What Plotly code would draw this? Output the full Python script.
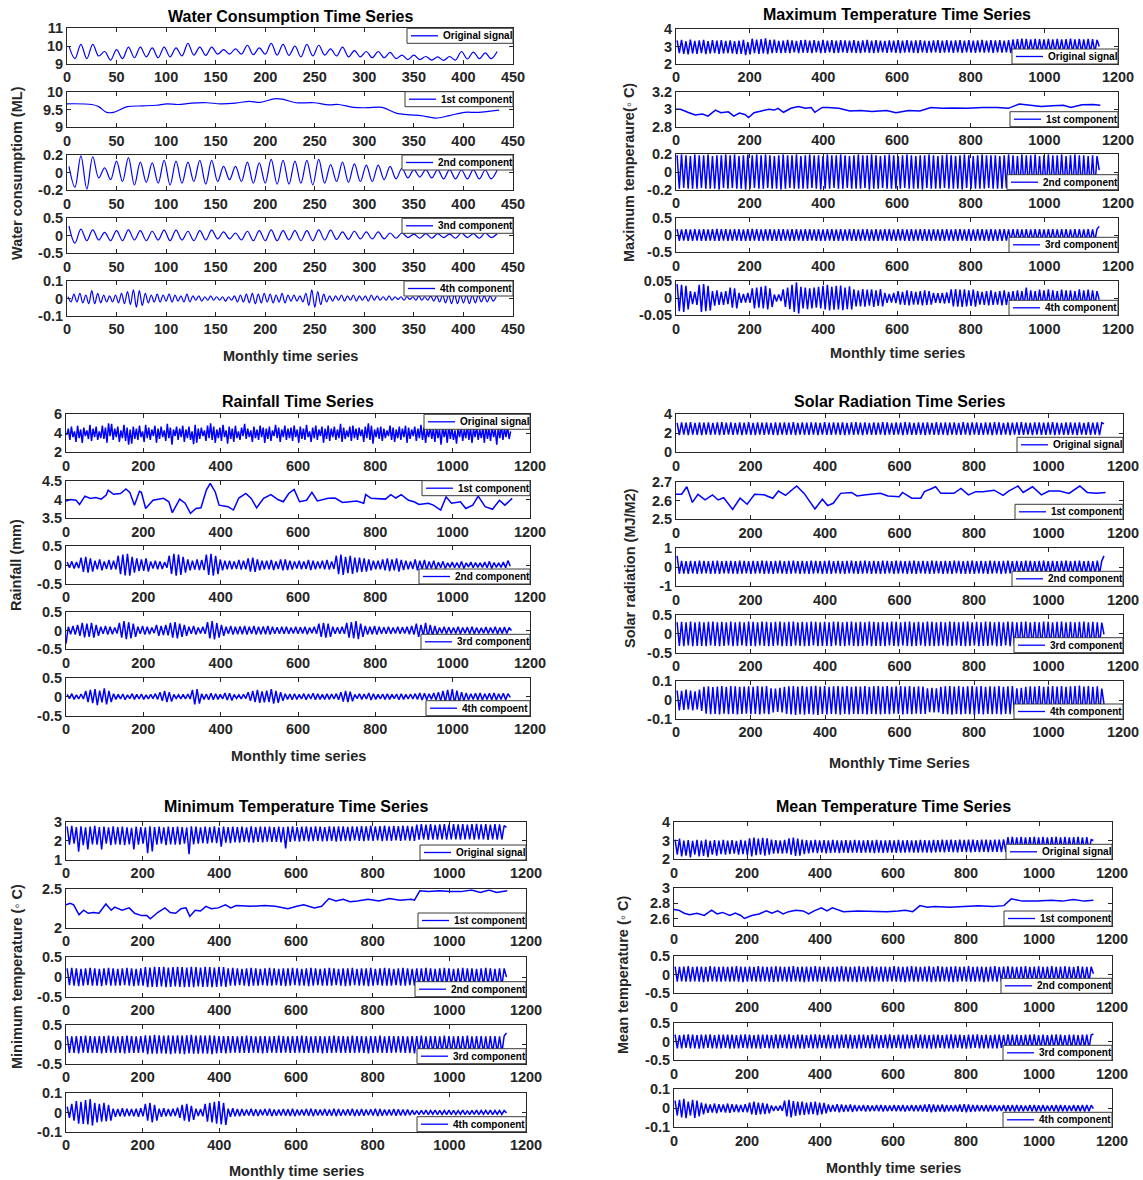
import plotly.graph_objects as go

# ======================= DATA =======================
# Oscillating series are stored as alternating peak / trough values (integers in
# the stated unit); the month index of each value is start + step * i.

# ---- Water consumption (x100 for original, x1000 for components) ----
WC_ORIG = [1000,930, 1010,930, 1010,945, 970,922, 980,930, 995,935, 995,940, 990,935, 995,940, 990,945,
           1015,950, 995,948, 995,955, 980,955, 985,955, 1005,952, 990,955, 1015,950, 1010,948, 1000,940,
           1010,945, 1005,950, 985,945, 995,940, 975,940, 970,935, 970,935, 965,930, 950,925, 950,925,
           942,922, 940,920, 942,922, 970,928, 967,930, 962,930, 970]
WC_C1_X = [0,25,32,40,47,61,76,90,101,112,126,141,155,170,184,195,209,217,231,249,264,274,289,303,318,332,347,357,372,386,401,415,436]
WC_C1_Y = [9.66,9.64,9.58,9.42,9.42,9.58,9.6,9.62,9.66,9.64,9.68,9.69,9.66,9.68,9.73,9.7,9.8,9.79,9.69,9.69,9.63,9.64,9.56,9.55,9.56,9.4,9.35,9.33,9.26,9.33,9.42,9.42,9.48]
WC_C2 = [70,-165, 190,-185, 180,-60, 55,-80, 130,-100, 170,-140, 120,-110, 110,-120, 140,-140, 130,-120,
         120,-100, 140,-130, 140,-100, 70,-80, 70,-100, 120,-120, 110,-120, 150,-130, 140,-130, 130,-120,
         140,-140, 150,-120, 90,-100, 120,-110, 100,-100, 85,-100, 85,-80, 70,-70, 50,-60, 35,-50,
         35,-60, 35,-70, 35,-70, 30,-70, 35,-70, 30,-70, 30]
WC_C3 = [280,-210, 190,-140, 170,-120, 100,-140, 150,-140, 170,-120, 150,-140, 130,-120, 160,-140, 160,-120,
         130,-140, 150,-120, 160,-90, 110,-90, 80,-120, 130,-140, 150,-140, 170,-140, 150,-120, 150,-140,
         150,-140, 170,-120, 160,-100, 110,-100, 130,-90, 110,-90, 110,-90, 80,-70, 80,-50, 50,-70,
         60,-70, 60,-50, 50,-70, 80,-50, 60,-70, 80,-50, 60]
WC_C4 = [10,-20,25,-20,30,-25,20,-30,45,-30,30,-25,20,-20,
         15,-20,20,-25,30,-30,
         40,-35,50,-50,45,-40,30,
         -25,20,-20,25,-20,20,-15,25,-20,20,
         -15,15,-20,25,-20,15,-10,15,-15,10,-10,15,-10,10,
         -10,10,-15,10,-10,15,-20,20,-20,25,
         -25,30,-30,25,-25,30,-20,25,-25,20,-20,30,-25,20,-15,20,-15,
         15,-20,30,-40,50,-50,40,-35,25,-20,15,-15,
         15,-10,20,-15,15,-10,20,-15,15,-10,15,-15,20,-10,15,-10,10,-10,15,-10,10,
         -5,10,-10,10,-5,10,-10,15,-10,10,-10,15,-15,15,-20,20,-25,
         20,-30,25,-30,20,-25,20,-30,20,-25,20,-20,15,-20,15,-15,10]

# ---- Maximum temperature (x100; 4th x1000) ----
MT_ORIG = [335,262,338,258,330,255,340,260,332,258,335,262,338,257,330,260,336,262,334,258,337,260,332,262,
           335,260,330,256,333,258,338,250,325,255,345,262,340,258,342,260,346,256,338,262,340,264,332,262,
           334,264,338,262,335,266,332,262,336,265,338,264,334,262,336,266,332,262,338,264,334,266,336,262,
           333,264,337,266,335,263,334,265,336,264,332,262,335,266,338,264,333,262,336,265,334,266,332,264,
           335,266,333,264,336,262,334,265,337,266,333,264,335,262,336,266,334,264,332,265,335,266,336,264,
           334,265,336,266,333,264,335,266,337,264,334,266,336,265,333,264,335,266,338,265,334,266,336,264,
           335,266,337,265,334,266,336,264,340,266,342,268,345,266,343,268,340,266,344,268,342,267,340,266,
           343,268,341,266,344,268,340,267,342,268,345,266,341,268,343,267,340,268,344,266,342,268,338,300]
MT_C1_X = [0,12,32,52,72,87,107,122,142,157,172,187,197,212,232,252,267,277,292,312,332,352,367,377,397,412,442,472,502,532,
           572,597,632,662,692,722,752,792,832,872,902,932,962,992,1022,1052,1072,1102,1132,1152]
MT_C1_Y = [3.0,3.0,2.965,2.935,2.945,2.92,2.99,2.96,2.97,2.92,2.955,2.94,2.905,2.96,2.98,3.0,2.99,3.01,2.965,3.01,
           3.03,3.01,3.02,2.965,3.02,3.02,3.01,2.98,2.985,2.975,2.985,2.96,2.985,2.98,3.02,3.01,3.015,3.01,3.02,3.02,
           3.01,3.06,3.045,3.03,3.04,3.045,3.02,3.05,3.055,3.045]
MT_C2 = [19,-19,20,-18,19,-19,18,-19,20,-19,19,-18,19,-19,20,-19,18,-19,19,-20,19,-18,20,-19,
         19,-18,20,-19,18,-19,19,-20,20,-19,19,-18,20,-19,19,-19,20,-18,19,-19,18,-19,19,-20,
         20,-19,19,-18,19,-19,20,-19,18,-19,19,-19,20,-18,19,-19,19,-20,18,-19,20,-19,19,-18,
         19,-19,20,-19,19,-18,18,-19,19,-19,20,-19,19,-18,19,-20,20,-19,19,-19,18,-18,19,-19,
         20,-19,19,-19,18,-19,19,-18,20,-19,19,-19,18,-19,19,-20,19,-18,20,-19,19,-19,18,-19,
         19,-18,20,-19,19,-19,18,-19,19,-20,20,-18,19,-19,18,-19,19,-19,20,-19,19,-18,19,-19,
         19,-19,18,-19,19,-18,20,-19,19,-19,18,-20,20,-19,19,-18,19,-19,20,-19,18,-19,19,-19,
         20,-19,19,-18,19,-19,20,-19,18,-19,19,-19,20,-18,19,-19,19,-20,18,-19,19,-19,18,2]
MT_C3 = [17,-17,16,-16,17,-17,16,-17,17,-16,16,-17,17,-17,16,-16,17,-17,18,-17,17,-16,17,-17,
         16,-17,17,-16,17,-17,16,-17,17,-17,18,-16,17,-17,16,-17,17,-16,17,-17,16,-17,17,-17,
         17,-16,16,-17,17,-17,17,-16,16,-17,17,-17,17,-16,16,-17,17,-17,16,-17,17,-16,17,-17,
         16,-17,17,-17,16,-16,17,-17,17,-17,16,-17,17,-16,17,-17,16,-17,17,-17,16,-16,17,-17,
         17,-17,16,-17,17,-16,17,-17,16,-17,17,-17,16,-16,17,-17,17,-17,16,-17,17,-16,16,-17,
         17,-17,17,-16,16,-17,17,-17,17,-16,16,-17,17,-17,16,-17,17,-16,17,-17,16,-17,17,-17,
         16,-17,17,-17,17,-16,16,-17,17,-17,17,-16,16,-17,17,-17,16,-17,17,-16,17,-17,16,-17,
         17,-16,17,-17,16,-17,17,-17,17,-16,16,-17,17,-17,17,-16,16,-17,17,-17,16,-17,17,25]
MT_C4 = [40,-38, 38,-40, 35,-33, 20,-18, 18,-20, 38,-40, 40,-38, 35,-36, 20,-22, 22,-20, 18,-20, 20,-18,
         30,-28, 28,-30, 15,-14, 12,-13, 15,-14, 28,-30, 30,-28, 32,-30, 35,-33, 28,-26, 10,-10, 10,-9,
         25,-26, 30,-32, 38,-40, 45,-45, 32,-30, 30,-32, 28,-30, 30,-28, 32,-30, 35,-33, 38,-36, 32,-34,
         35,-33, 36,-35, 30,-32, 34,-33, 25,-24, 22,-24, 26,-25, 24,-22, 25,-26, 22,-23, 26,-24, 15,-14,
         12,-13, 15,-15, 20,-19, 18,-20, 22,-21, 20,-19, 18,-19, 20,-21, 22,-20, 20,-19, 15,-14, 14,-15,
         15,-16, 16,-15, 25,-24, 26,-25, 24,-26, 25,-24, 22,-23, 24,-25, 20,-19, 18,-20, 20,-21, 22,-20,
         18,-19, 20,-21, 22,-20, 18,-19, 20,-21, 22,-20, 20,-22, 30,-28, 22,-21, 20,-22, 24,-22, 22,-23,
         25,-24, 22,-21, 20,-22, 24,-23, 22,-21, 22,-23, 20,-21, 25,-24, 22,-23, 24,-22, 22,-21, 20,-5]

# ---- Rainfall (x100) ; original at 4-month steps ----
RF_ORIG = [380,450,330,470,360,420,310,480,350,440,300,460,370,430,340,490,320,450,360,470,330,420,350,480,
           340,460,300,505,370,500,330,450,360,470,310,430,350,490,320,460,280,440,290,470,340,450,330,480,
           360,420,310,490,350,460,330,440,370,480,300,450,340,470,360,430,320,500,350,460,280,440,370,470,
           330,450,360,480,310,440,350,470,330,420,285,490,300,450,340,460,370,430,320,480,350,505,330,470,
           300,440,350,460,320,490,360,430,290,470,340,450,310,480,350,420,330,460,370,500,340,450,360,430,
           310,470,350,440,330,480,360,460,300,450,340,470,320,430,370,490,350,460,310,440,360,480,330,450,
           350,460,320,480,360,440,300,470,340,450,330,490,360,420,310,460,350,480,330,440,370,470,300,450,
           340,480,320,450,360,470,330,440,350,500,310,460,340,430,360,470,320,480,350,450,330,460,370,440,
           310,470,350,505,330,480,290,440,360,460,340,470,320,450,350,430,370,480,330,460,310,440,350,470,
           330,450,360,480,300,460,340,440,370,470,320,450,350,490,330,460,300,440,360,470,340,450,310,480,
           350,440,280,470,360,450,300,480,340,460,330,430,290,450,360,470,320,440,350,480,330,460,300,450,
           360,470,330,440,350,460,300,480,340,450,320,470,360,440,280,460,350,480,330,450,360,470,340,420]
RF_C1_X = [0,12,26,35,49,63,77,91,104,109,123,141,155,165,177,190,195,206,225,252,266,275,294,308,322,336,349,363,373,386,
           396,419,433,447,465,479,493,511,530,548,562,576,590,604,622,636,650,678,696,715,752,770,775,789,826,840,853,867,886,900,
           913,937,950,969,983,997,1020,1034,1052,1066,1084,1103,1121,1135,1154]
RF_C1_Y = [3.96,4.0,3.98,3.87,4.09,4.03,4.05,4.01,4.12,4.25,4.14,4.16,4.28,4.19,3.85,4.22,4.19,3.76,3.98,4.03,
           3.94,3.65,4.01,3.9,3.63,3.76,3.78,4.25,4.43,4.2,3.85,3.81,3.72,4.04,4.16,4.03,3.78,4.03,4.13,4.0,
           3.94,4.16,4.27,3.94,3.98,4.19,3.96,4.03,4.04,3.92,3.96,3.9,4.13,4.03,4.01,4.13,4.04,4.13,3.98,3.94,
           3.87,3.9,3.85,3.72,4.07,3.9,3.94,3.76,3.85,4.09,3.81,3.74,3.98,3.85,4.03]
RF_C2 = [8,-7, 10,-9, 8,-8, 20,-18, 22,-20, 18,-17, 12,-11, 15,-14, 10,-10, 14,-12, 12,-11,
         25,-24, 28,-27, 30,-28, 22,-20, 18,-16, 15,-15, 18,-17, 10,-9, 12,-11, 10,-10, 8,-7,
         25,-23, 30,-28, 28,-26, 22,-20, 15,-14, 12,-12, 15,-13, 14,-13, 28,-26, 30,-28, 25,-24, 15,-14, 12,-11,
         12,-11, 10,-10, 14,-12, 12,-11, 18,-17, 20,-18, 15,-14, 12,-11, 12,-11, 14,-13, 10,-10, 15,-14,
         15,-13, 12,-12, 10,-9, 12,-11, 10,-10, 14,-13, 12,-11, 10,-9, 12,-11, 14,-12, 10,-10,
         25,-24, 28,-26, 22,-21, 25,-23, 20,-19, 20,-18, 18,-17, 15,-14, 12,-11,
         12,-11, 15,-14, 18,-16, 15,-14, 18,-17, 14,-13, 12,-11, 10,-10, 15,-14, 12,-11, 14,-13, 10,-9, 12,-11,
         8,-7, 10,-9, 6,-6, 8,-7, 7,-7, 10,-9, 6,-5, 8,-7, 7,-6, 6,-6, 8,-7, 10,-9, 7,-6, 6,-6, 8,-7, 12,-3]
RF_C3 = [-35,
         10,-10, 12,-11, 15,-14, 20,-18, 18,-17, 20,-19, 15,-14, 10,-9, 12,-11, 10,-10, 8,-8,
         20,-19, 25,-23, 22,-21, 18,-17, 10,-9, 12,-11, 10,-10, 8,-7, 15,-14, 12,-12, 15,-13,
         20,-19, 22,-21, 18,-17, 15,-14, 10,-9, 12,-11, 8,-8, 10,-9, 22,-21, 25,-24, 20,-19, 15,-14,
         10,-9, 12,-11, 10,-10, 11,-10, 12,-11, 10,-9, 12,-11, 10,-10, 11,-10, 12,-11, 10,-9, 9,-9, 10,-9,
         10,-9, 8,-8, 10,-9, 9,-8, 10,-10, 8,-7, 10,-9, 18,-17, 20,-19, 18,-17, 10,-9, 9,-9, 10,-9,
         20,-19, 22,-21, 25,-23, 18,-17, 12,-11, 10,-10, 12,-11,
         10,-9, 9,-9, 10,-9, 8,-8, 10,-9, 9,-8, 10,-10, 12,-11, 18,-17, 15,-14, 20,-19, 15,-14, 12,-11,
         8,-7, 10,-9, 9,-8, 8,-8, 10,-9, 8,-7, 9,-9, 10,-9, 8,-8, 7,-7, 9,-8, 8,-7, 10,-9, 8,-8, 9,-8, 8,0]
RF_C4 = [6,-5, 8,-7, 5,-6, 7,-6, 15,-14, 18,-17, 20,-22, 16,-15, 22,-20, 15,-14,
         8,-7, 6,-6, 7,-8, 5,-5, 8,-7, 6,-6, 7,-7, 5,-6, 6,-5, 8,-7, 12,-11, 15,-14, 12,-13,
         6,-5, 5,-6, 6,-6, 7,-6, 18,-20, 20,-18, 8,-7, 7,-8, 9,-8, 8,-7, 6,-6, 10,-9, 9,-10,
         6,-5, 5,-6, 6,-5, 12,-11, 15,-14, 18,-16, 14,-15, 16,-14, 20,-18, 15,-16, 12,-11,
         8,-7, 7,-8, 8,-7, 6,-6, 8,-8, 7,-6, 9,-8, 8,-7, 6,-7, 8,-7, 7,-6, 8,-8, 12,-13, 15,-14, 13,-12,
         6,-5, 8,-7, 7,-6, 10,-9, 8,-7, 6,-6, 7,-7, 8,-7, 6,-5, 7,-8, 8,-7, 6,-6, 7,-6,
         8,-7, 10,-9, 9,-8, 8,-7, 10,-9, 12,-11, 15,-14, 18,-16, 20,-18, 16,-15, 12,-11,
         10,-9, 8,-7, 9,-8, 10,-9, 8,-7, 9,-8, 10,-9, 8,-7, 9,-8, 8,-2]

# ---- Solar radiation (x100; 4th x1000) ----
SR_ORIG = [310,182,315,185,312,180,318,186,310,184,315,182,312,186,316,183,310,185,314,182,318,184,312,186,
           315,183,310,185,316,182,312,186,318,184,310,182,314,185,312,183,316,186,310,184,315,182,312,185,
           316,183,312,186,318,182,310,185,315,184,312,183,316,186,314,182,310,185,318,184,312,183,315,186,
           312,184,316,182,310,186,315,183,318,185,312,182,314,186,310,184,316,183,312,185,318,182,314,186,
           310,183,315,185,312,182,318,186,314,184,310,183,316,185,312,182,315,186,310,184,318,183,312,185,
           316,182,312,186,315,184,310,183,318,185,312,182,314,186,316,184,310,183,315,185,312,182,318,186,
           314,183,310,185,316,182,312,186,315,184,318,183,312,185,310,182,316,186,314,184,312,183,315,185,
           318,182,312,186,310,184,315,183,316,185,312,182,314,186,310,184,318,183,312,185,316,182,312,300]
SR_C1_X = [0,15,29,44,59,78,98,113,128,152,172,191,211,236,260,275,294,309,324,344,363,373,393,407,422,442,471,486,510,549,
           569,599,608,633,657,667,687,697,711,746,765,785,805,824,854,878,893,918,932,957,981,1001,1030,1055,1084,1104,1128,1153]
SR_C1_Y = [2.633,2.633,2.673,2.59,2.633,2.603,2.63,2.603,2.615,2.553,2.612,2.58,2.633,2.63,2.612,2.65,2.627,2.65,2.677,2.638,
           2.585,2.555,2.607,2.573,2.585,2.638,2.643,2.624,2.63,2.638,2.624,2.62,2.643,2.612,2.612,2.647,2.664,2.673,2.638,2.638,
           2.664,2.63,2.647,2.647,2.655,2.627,2.65,2.677,2.643,2.673,2.63,2.65,2.65,2.638,2.677,2.643,2.638,2.643]
SR_C2 = [60,-34,34,-33,33,-34,34,-32,33,-34,35,-33,34,-32,33,-34,34,-33,35,-34,33,-32,34,-33,
         34,-33,33,-34,35,-33,34,-32,33,-34,34,-33,33,-32,35,-34,34,-33,33,-34,34,-32,35,-33,
         33,-34,34,-33,35,-32,33,-34,34,-33,33,-34,35,-33,34,-32,33,-34,34,-33,35,-34,33,-32,
         34,-33,33,-34,34,-32,35,-33,33,-34,34,-33,35,-32,33,-34,34,-33,33,-34,35,-33,34,-32,
         33,-34,35,-33,34,-32,33,-34,34,-33,35,-34,33,-32,34,-33,33,-34,35,-33,34,-32,33,-34,
         34,-33,33,-34,35,-32,34,-33,33,-34,34,-33,35,-34,33,-32,34,-33,33,-34,35,-33,34,-32,
         33,-34,34,-33,35,-32,33,-34,34,-33,33,-34,35,-33,34,-32,33,-34,34,-33,35,-34,33,-32,
         34,-33,33,-34,34,-32,35,-33,33,-34,34,-33,35,-32,33,-34,34,-33,33,-34,35,-33,34,60]
SR_C3 = [30,-32,31,-33,30,-31,32,-33,30,-32,31,-32,30,-33,31,-31,32,-32,30,-33,31,-32,30,-31,
         32,-33,30,-32,31,-31,30,-33,32,-32,31,-33,30,-31,32,-32,31,-33,30,-32,31,-31,32,-33,
         30,-32,31,-33,32,-31,30,-32,31,-33,30,-32,32,-31,31,-33,30,-32,31,-32,30,-33,32,-31,
         31,-32,30,-33,31,-31,32,-32,30,-33,31,-32,30,-31,32,-33,31,-32,30,-32,31,-33,30,-31,
         32,-32,31,-33,30,-31,31,-32,32,-33,30,-32,31,-31,30,-33,32,-32,31,-33,30,-32,31,-31,
         30,-33,32,-32,31,-31,30,-32,31,-33,32,-32,30,-31,31,-33,30,-32,32,-32,31,-31,30,-33,
         31,-32,30,-31,32,-33,31,-32,30,-32,31,-33,32,-31,30,-32,31,-33,30,-32,32,-31,31,-32,
         30,-33,31,-32,32,-31,30,-32,31,-33,30,-32,31,-31,32,-33,30,-32,31,-32,30,-31,29,-2]
SR_C4 = [50,-55, 48,-52, 55,-50, 50,-55, 45,-50, 55,-58,
         70,-72, 72,-75, 68,-74, 71,-76, 73,-72, 70,-75, 74,-73, 72,-76, 69,-74, 71,-72,
         72,-75, 70,-73, 74,-76, 71,-72, 73,-75, 62,-65, 60,-63, 64,-66, 70,-74, 72,-76,
         74,-78, 71,-75, 73,-77, 70,-74, 72,-76, 75,-78, 71,-74, 73,-76, 70,-73, 72,-75,
         74,-77, 71,-74, 73,-76, 70,-73, 72,-75, 71,-74, 73,-76, 70,-73, 72,-75, 74,-76,
         71,-73, 73,-75, 70,-72, 72,-74, 74,-76, 71,-73, 73,-75, 70,-72, 72,-74, 71,-73,
         62,-64, 64,-66, 62,-65, 70,-73, 72,-75, 74,-77, 71,-74, 73,-76, 70,-73, 72,-75,
         74,-78, 71,-74, 73,-76, 70,-73, 72,-75, 71,-74, 73,-76, 70,-73, 72,-75, 74,-77,
         62,-65, 64,-66, 70,-73, 72,-75, 71,-74, 73,-76, 70,-73, 72,-75, 74,-77, 71,-74,
         73,-76, 70,-73, 72,-75, 74,-77, 76,-78, 71,-74, 73,-76, 70,-73, 72,-75, 60,-20]

# ---- Minimum temperature (x100; 4th x1000) ----
MN_ORIG = [275,180, 278,185, 272,143, 276,178, 270,155, 275,182, 278,180, 272,155, 275,185, 270,178, 276,182, 272,180,
           275,178, 270,182, 268,155, 274,180, 272,185, 270,135, 276,145, 272,180, 275,185, 270,178, 274,182, 272,180,
           275,180, 272,185, 270,130, 276,182, 274,185, 270,188, 275,185, 272,190, 276,188, 270,170, 274,190, 272,188,
           275,192, 272,190, 274,195, 270,192, 276,190, 272,195, 275,192, 273,196, 274,194, 272,195, 275,192, 272,160,
           274,195, 276,198, 272,196, 274,200, 275,197, 273,198, 276,200, 274,197, 272,198, 275,200, 274,196, 276,198,
           275,200, 273,198, 276,202, 274,200, 277,198, 275,201, 278,200, 276,202, 277,199, 279,201, 276,200, 278,202,
           277,200, 279,203, 278,201, 276,200, 285,206, 287,208, 285,205, 288,207, 284,206, 286,208, 288,206, 285,207,
           287,208, 286,206, 288,208, 285,207, 287,206, 289,208, 286,207, 288,205, 285,208, 287,206, 286,207, 280,270]
MN_C1_X = [0,11,20,34,46,58,72,86,104,118,127,146,165,179,197,211,220,239,258,272,286,300,313,323,337,351,365,379,397,416,
           430,444,481,518,546,579,602,620,648,667,686,704,723,741,760,788,816,844,871,900,909,923,946,974,1002,1030,1058,1081,1104,1123,1151]
MN_C1_Y = [2.30,2.32,2.30,2.17,2.23,2.19,2.2,2.19,2.31,2.23,2.27,2.23,2.26,2.19,2.16,2.16,2.12,2.2,2.26,2.2,
           2.19,2.25,2.26,2.15,2.23,2.22,2.28,2.25,2.26,2.3,2.26,2.29,2.28,2.29,2.28,2.25,2.28,2.3,2.26,2.28,
           2.38,2.35,2.37,2.34,2.35,2.37,2.35,2.38,2.36,2.37,2.36,2.48,2.47,2.48,2.47,2.47,2.49,2.46,2.49,2.46,2.48]
MN_C2 = [22,-21,23,-22,22,-23,21,-22,22,-21,23,-22,22,-22,21,-23,22,-21,23,-22,22,-22,21,-22,
         22,-21,23,-22,22,-23,21,-22,22,-22,25,-26,24,-25,26,-25,25,-24,26,-26,24,-25,25,-24,
         26,-25,25,-26,24,-25,26,-26,25,-24,24,-25,26,-25,25,-26,24,-25,26,-24,25,-25,22,-22,
         23,-22,22,-21,21,-22,22,-23,23,-22,22,-22,21,-21,22,-22,23,-22,22,-21,21,-22,22,-23,
         22,-22,23,-21,22,-22,21,-22,22,-23,23,-22,22,-21,21,-22,22,-22,23,-22,22,-21,21,-22,
         22,-23,22,-22,23,-21,21,-22,22,-22,22,-23,23,-22,21,-21,22,-22,23,-22,22,-22,21,-21,
         22,-22,23,-22,22,-21,21,-22,22,-23,22,-22,23,-21,22,-22,21,-22,22,-23,23,-22,22,-21,
         21,-22,22,-22,23,-22,22,-21,22,-23,21,-22,22,-22,23,-21,22,-22,21,-22,22,-23,22,0]
MN_C3 = [22,-22,21,-22,22,-23,22,-21,23,-22,22,-22,21,-22,22,-23,22,-22,23,-21,22,-22,21,-22,
         22,-23,23,-22,22,-22,21,-22,22,-21,24,-25,23,-24,25,-24,24,-23,23,-24,24,-25,23,-23,
         24,-24,23,-25,24,-23,25,-24,23,-24,24,-23,23,-24,24,-25,23,-23,22,-22,22,-23,22,-22,
         22,-21,21,-22,22,-22,23,-22,22,-21,21,-22,22,-23,22,-22,21,-21,22,-22,23,-22,22,-21,
         21,-22,22,-22,22,-21,23,-22,22,-22,21,-22,22,-21,22,-23,21,-22,22,-22,23,-21,22,-22,
         22,-22,21,-22,23,-22,22,-21,22,-22,21,-23,22,-22,22,-21,23,-22,21,-22,22,-22,22,-21,
         22,-21,22,-22,21,-22,22,-23,22,-22,23,-21,21,-22,22,-22,22,-21,21,-22,23,-22,22,-22,
         21,-22,22,-21,22,-22,23,-22,21,-22,22,-21,22,-22,21,-23,22,-22,22,-21,21,-22,22,30]
MN_C4 = [30,-28, 45,-42, 60,-58, 55,-60, 65,-62, 70,-68, 50,-52, 45,-48, 50,-46, 40,-42,
         20,-22, 18,-20, 22,-21, 20,-18, 18,-20, 20,-22, 22,-20, 45,-42, 50,-52, 40,-42,
         20,-22, 22,-20, 18,-20, 20,-18, 25,-28, 40,-42, 45,-48, 35,-38, 20,-18, 18,-20,
         45,-48, 50,-52, 55,-58, 60,-62, 50,-65, 20,-22, 22,-20, 18,-20,
         18,-17, 15,-16, 20,-18, 17,-18, 15,-14, 18,-17, 20,-19, 16,-17, 15,-16, 18,-17,
         17,-18, 20,-19, 15,-16, 16,-15, 18,-17, 20,-19, 17,-16, 15,-16, 18,-17, 16,-17,
         20,-19, 18,-17, 15,-16, 17,-16, 20,-19, 16,-17, 18,-17, 15,-14, 17,-16, 20,-19,
         18,-17, 16,-15, 15,-16, 18,-17, 17,-16, 16,-15, 15,-14,
         12,-11, 10,-11, 11,-10, 12,-11, 10,-9, 12,-11, 11,-10, 10,-11, 12,-11, 11,-10, 10,-9,
         12,-11, 10,-11, 11,-10, 12,-11, 10,-9, 11,-10, 12,-11, 10,-9, 11,-10, 10,-2]

# ---- Mean temperature (x100; 4th x1000) ----
ME_ORIG = [305,225, 310,215, 300,220, 302,210, 298,225, 303,215, 300,218, 305,212, 298,225, 302,220, 300,228, 303,225,
           300,228, 302,230, 298,225, 303,228, 300,222, 312,215, 315,222, 310,225, 314,220, 312,225, 305,230, 302,232,
           300,230, 303,232, 312,225, 315,218, 310,220, 305,228, 302,232, 300,235, 303,233, 300,235, 302,232, 300,234,
           303,235, 301,233, 300,236, 302,234, 300,235, 303,236, 301,234, 300,236, 302,235, 300,233, 303,236, 301,234,
           300,236, 302,235, 301,234, 303,236, 300,235, 302,237, 301,235, 300,236, 303,237, 302,236, 301,235, 303,237,
           302,238, 304,237, 303,239, 305,238, 302,237, 304,239, 303,238, 305,237, 304,239, 302,238, 305,239, 304,238,
           303,239, 305,240, 304,238, 306,240, 318,245, 320,243, 317,245, 319,244, 316,245, 318,243, 320,245, 317,244,
           319,245, 316,243, 318,245, 320,244, 317,245, 319,243, 316,245, 318,244, 320,245, 317,243, 318,245, 305,300]
ME_C1_X = [0,13,28,43,63,83,103,118,133,153,168,183,193,213,233,253,268,284,299,314,334,354,369,384,404,419,434,464,504,544,
           584,614,634,654,674,694,714,754,794,834,874,904,924,954,994,1034,1064,1094,1124,1149]
ME_C1_Y = [2.72,2.71,2.67,2.65,2.67,2.64,2.71,2.66,2.68,2.64,2.67,2.64,2.6,2.64,2.66,2.7,2.67,2.7,2.66,2.69,
           2.71,2.7,2.66,2.7,2.74,2.7,2.74,2.69,2.7,2.69,2.69,2.7,2.71,2.69,2.77,2.75,2.76,2.75,2.76,2.77,
           2.76,2.77,2.86,2.83,2.83,2.84,2.83,2.85,2.83,2.84]
ME_C2 = [21,-19,20,-18,21,-19,22,-19,20,-18,21,-19,21,-20,20,-19,22,-18,21,-19,20,-19,21,-18,
         20,-19,21,-18,22,-19,21,-20,20,-19,21,-18,20,-19,22,-19,21,-18,20,-19,21,-20,22,-19,
         21,-18,20,-19,21,-19,22,-18,20,-19,21,-20,21,-19,20,-18,22,-19,21,-19,20,-18,21,-19,
         20,-19,21,-19,22,-18,21,-19,20,-19,21,-20,22,-18,20,-19,21,-19,22,-19,20,-18,21,-19,
         21,-19,20,-18,22,-19,21,-19,20,-20,21,-18,22,-19,21,-19,20,-18,21,-19,22,-20,20,-19,
         22,-19,21,-18,20,-19,21,-20,22,-19,20,-18,21,-19,22,-19,20,-19,21,-18,21,-20,20,-19,
         21,-18,22,-19,20,-19,21,-19,22,-20,21,-18,20,-19,21,-19,22,-18,20,-19,21,-20,22,-19,
         20,-19,21,-19,22,-18,20,-19,21,-20,22,-19,21,-18,20,-19,22,-19,21,-18,20,-19,21,2]
ME_C3 = [18,-18,17,-18,18,-17,19,-18,18,-18,17,-19,18,-18,18,-17,19,-18,17,-18,18,-18,18,-17,
         18,-19,18,-18,17,-18,18,-17,19,-18,18,-18,17,-18,18,-19,18,-17,18,-18,17,-18,19,-18,
         18,-17,18,-18,19,-18,17,-18,18,-18,18,-19,17,-17,18,-18,19,-18,18,-17,17,-18,18,-18,
         17,-18,18,-18,18,-17,19,-18,18,-19,17,-18,18,-18,18,-17,17,-18,19,-18,18,-18,17,-17,
         18,-18,19,-18,17,-17,18,-18,18,-19,18,-18,17,-18,19,-17,18,-18,18,-18,17,-19,18,-18,
         18,-17,17,-18,18,-18,19,-18,18,-17,18,-18,17,-19,18,-18,18,-17,19,-18,17,-18,18,-18,
         17,-18,18,-18,18,-17,17,-18,19,-18,18,-18,18,-19,17,-18,18,-17,18,-18,19,-18,17,-18,
         18,-18,17,-17,18,-18,19,-18,18,-17,17,-18,18,-18,18,-19,17,-18,18,-17,18,-18,17,20]
ME_C4 = [40,-38, 45,-48, 50,-52, 35,-38, 45,-50, 40,-42, 30,-32,
         25,-24, 20,-22, 25,-26, 22,-20, 20,-22, 25,-24, 22,-20, 20,-21, 18,-20, 22,-21,
         30,-32, 35,-34, 30,-32, 28,-30, 25,-26, 15,-14, 12,-13, 15,-14,
         40,-42, 45,-48, 38,-40, 35,-36, 35,-34, 30,-32, 32,-30, 35,-36, 30,-32, 28,-26,
         20,-19, 18,-17, 22,-21, 20,-19, 18,-17, 20,-19, 17,-16, 15,-14, 18,-17, 16,-15,
         15,-14, 17,-16, 18,-17, 16,-15, 15,-14, 17,-16, 16,-15, 18,-17, 15,-14, 17,-16,
         16,-15, 18,-17, 20,-19, 22,-21, 20,-19, 18,-17, 20,-19, 17,-16, 16,-15, 18,-17,
         20,-19, 22,-21, 20,-19, 18,-17, 17,-16, 16,-15, 18,-17, 17,-16, 16,-15, 15,-14,
         17,-16, 16,-15, 18,-17, 17,-16, 16,-15, 15,-14, 17,-16, 18,-17, 16,-15, 17,-16,
         15,-14, 16,-15, 18,-17, 17,-16, 16,-15, 15,-14, 17,-16, 16,-15, 18,-17, 17,-16,
         16,-2]

# ---- labels / ticks ----
TITLES = ["Water Consumption Time Series", "Maximum Temperature Time Series", "Rainfall Time Series",
          "Solar Radiation Time Series", "Minimum Temperature Time Series", "Mean Temperature Time Series"]
YLABELS = ["Water consumptiom (ML)", "Maximum temperaure(\u25e6 C)", "Rainfall (mm)",
           "Solar radiation (MJ/M2)", "Minimum temperature (\u25e6 C)", "Mean temperature (\u25e6 C)"]
XLABELS = ["Monthly time series", "Monthly time series", "Monthly time series",
           "Monthly Time Series", "Monthly time series", "Monthly time series"]
LEG_WC = ["Original signal", "1st component", "2nd component", "3nd component", "4th component"]
LEG_STD = ["Original signal", "1st component", "2nd component", "3rd component", "4th component"]
LEG_RF = ["Original signal", "1st component", "2nd component", "3rd component", "4th compoent"]
YTICKS = [
    [["9", "10", "11"], ["9", "9.5", "10"], ["-0.2", "0", "0.2"], ["-0.5", "0", "0.5"], ["-0.1", "0", "0.1"]],
    [["2", "3", "4"], ["2.8", "3", "3.2"], ["-0.2", "0", "0.2"], ["-0.5", "0", "0.5"], ["-0.05", "0", "0.05"]],
    [["2", "4", "6"], ["3.5", "4", "4.5"], ["-0.5", "0", "0.5"], ["-0.5", "0", "0.5"], ["-0.5", "0", "0.5"]],
    [["0", "2", "4"], ["2.5", "2.6", "2.7"], ["-1", "0", "1"], ["-0.5", "0", "0.5"], ["-0.1", "0", "0.1"]],
    [["1", "2", "3"], ["2", "2.5"], ["-0.5", "0", "0.5"], ["-0.5", "0", "0.5"], ["-0.1", "0", "0.1"]],
    [["2", "3", "4"], ["2.6", "2.8", "3"], ["-0.5", "0", "0.5"], ["-0.5", "0", "0.5"], ["-0.1", "0", "0.1"]],
]
YRANGES = [
    [[9, 11], [9, 10], [-0.2, 0.2], [-0.5, 0.5], [-0.1, 0.1]],
    [[2, 4], [2.8, 3.2], [-0.2, 0.2], [-0.5, 0.5], [-0.05, 0.05]],
    [[2, 6], [3.5, 4.5], [-0.5, 0.5], [-0.5, 0.5], [-0.5, 0.5]],
    [[0, 4], [2.5, 2.7], [-1, 1], [-0.5, 0.5], [-0.1, 0.1]],
    [[1, 3], [2, 2.5], [-0.5, 0.5], [-0.5, 0.5], [-0.1, 0.1]],
    [[2, 4], [2.5, 3.0], [-0.5, 0.5], [-0.5, 0.5], [-0.1, 0.1]],
]
XMAX = [450, 1200, 1200, 1200, 1200, 1200]
XDTICK = [50, 200, 200, 200, 200, 200]

# series: (values, scale, first month, month step) or (x list, y list)
SERIES = [
    [(WC_ORIG, 0.01, 2, 6), (WC_C1_X, WC_C1_Y), (WC_C2, 0.001, 2, 6), (WC_C3, 0.001, 2, 6), (WC_C4, 0.001, 1, 3)],
    [(MT_ORIG, 0.01, 3, 6), (MT_C1_X, MT_C1_Y), (MT_C2, 0.01, 3, 6), (MT_C3, 0.01, 3, 6), (MT_C4, 0.001, 3, 6)],
    [(RF_ORIG, 0.01, 2, 4), (RF_C1_X, RF_C1_Y), (RF_C2, 0.01, 3, 6), (RF_C3, 0.01, 0, 6), (RF_C4, 0.01, 3, 6)],
    [(SR_ORIG, 0.01, 3, 6), (SR_C1_X, SR_C1_Y), (SR_C2, 0.01, 3, 6), (SR_C3, 0.01, 3, 6), (SR_C4, 0.001, 3, 6)],
    [(MN_ORIG, 0.01, 3, 6), (MN_C1_X, MN_C1_Y), (MN_C2, 0.01, 3, 6), (MN_C3, 0.01, 3, 6), (MN_C4, 0.001, 3, 6)],
    [(ME_ORIG, 0.01, 3, 6), (ME_C1_X, ME_C1_Y), (ME_C2, 0.01, 3, 6), (ME_C3, 0.01, 3, 6), (ME_C4, 0.001, 3, 6)],
]
LEGENDS = [LEG_WC, LEG_STD, LEG_RF, LEG_STD, LEG_STD, LEG_STD]

# ======================= LAYOUT (pixel geometry of the reference) =======================
W, H = 1143, 1180
GEOM = [
    dict(x=(67, 513), rows=[(28.3, 64), (91.7, 127.3), (155, 190.3), (218.3, 253.3), (281, 316)],
         title_y=16.5, xlab_y=356, ylab=(17, 173), leg="ttttt", spline=True),
    dict(x=(676, 1118), rows=[(29, 64), (91.7, 126.7), (154.3, 189.7), (217.7, 252.3), (280.7, 315.3)],
         title_y=14, xlab_y=353, ylab=(629, 173), leg="bbbbb", spline=False),
    dict(x=(66, 530), rows=[(414.3, 452.3), (480.7, 518.3), (546.3, 584), (611.7, 649.3), (677.7, 715.7)],
         title_y=401.7, xlab_y=756, ylab=(16, 565), leg="ttbbb", spline=False),
    dict(x=(676, 1123), rows=[(414.3, 452.3), (481.7, 519.3), (548.3, 586.3), (614.7, 652.7), (681, 719)],
         title_y=401.7, xlab_y=762.5, ylab=(630, 568), leg="bbbbb", spline=False),
    dict(x=(66, 526), rows=[(821.7, 860), (889.3, 928), (957.3, 996.7), (1025.3, 1063.7), (1093.3, 1131.7)],
         title_y=806.7, xlab_y=1171, ylab=(17, 977), leg="bbbbb", spline=False),
    dict(x=(674, 1112), rows=[(821.7, 859.3), (888.3, 926), (955.7, 993.3), (1022.7, 1060.3), (1089.3, 1127.3)],
         title_y=806.7, xlab_y=1167.7, ylab=(623, 975), leg="bbbbb", spline=False),
]
LEG_W = {"Original signal": 106, "1st component": 108, "2nd component": 111, "3rd component": 109,
         "3nd component": 111, "4th component": 109, "4th compoent": 104}
LEG_H = 15

FONT = "Arial, Liberation Sans, Helvetica, sans-serif"
AXC = "#262626"
BLUE = "rgb(0,0,255)"


def px(xp):
    return xp / W


def py(yp):
    return 1 - yp / H


fig = go.Figure()
layout = dict(template="none", width=W, height=H, margin=dict(l=0, r=0, t=0, b=0, pad=0, autoexpand=False),
              paper_bgcolor="white", plot_bgcolor="white",
              font=dict(family=FONT, color=AXC), showlegend=False)
annotations = []
shapes = []

n = 0
for p in range(6):
    g = GEOM[p]
    x0, x1 = g["x"]
    for r in range(5):
        n += 1
        sfx = "" if n == 1 else str(n)
        yt, yb = g["rows"][r]
        spec = SERIES[p][r]
        if len(spec) == 2:
            xs, ys = list(spec[0]), list(spec[1])
        else:
            vals, sc, start, step = spec
            xs = [start + step * i for i in range(len(vals))]
            ys = [v * sc for v in vals]
        label = LEGENDS[p][r]
        fig.add_trace(go.Scatter(
            x=xs, y=ys, mode="lines", name=label,
            line=dict(color=BLUE, width=1.2 if g["spline"] else 1.5,
                      shape="spline" if g["spline"] else "linear"),
            xaxis="x" + sfx, yaxis="y" + sfx, hoverinfo="skip"))
        ticktext = YTICKS[p][r]
        common = dict(showline=True, linecolor=AXC, linewidth=1, mirror="ticks",
                      ticks="inside", ticklen=4, tickcolor=AXC, showgrid=False, zeroline=False,
                      automargin=False,
                      tickfont=dict(family=FONT, size=14.5, color=AXC, weight="bold"))
        layout["xaxis" + sfx] = dict(domain=[px(x0), px(x1)], anchor="y" + sfx, range=[0, XMAX[p]],
                                     tickmode="linear", tick0=0, dtick=XDTICK[p], **common)
        layout["yaxis" + sfx] = dict(domain=[py(yb), py(yt)], anchor="x" + sfx, range=YRANGES[p][r],
                                     tickmode="array", tickvals=[float(t) for t in ticktext],
                                     ticktext=ticktext, **common)
        # legend box (drawn like the reference: white box, line sample, bold label)
        lw = LEG_W[label]
        bl, br = x1 - lw, x1
        if g["leg"][r] == "t":
            bt, bb = yt, yt + LEG_H
        else:
            bt, bb = yb - LEG_H, yb
        shapes.append(dict(type="rect", xref="paper", yref="paper", x0=px(bl), x1=px(br),
                           y0=py(bb), y1=py(bt), fillcolor="white",
                           line=dict(color="#3a3a3a", width=1), layer="above"))
        cy = (bt + bb) / 2
        shapes.append(dict(type="line", xref="paper", yref="paper", x0=px(bl + 4), x1=px(bl + 31),
                           y0=py(cy), y1=py(cy), line=dict(color=BLUE, width=1.3), layer="above"))
        annotations.append(dict(text=label, x=px(bl + 34), y=py(cy), xref="paper", yref="paper",
                                xanchor="left", yanchor="middle", showarrow=False,
                                font=dict(family=FONT, size=10, color="black", weight="bold")))
    cx = px((x0 + x1) / 2)
    annotations.append(dict(text=TITLES[p], x=cx, y=py(g["title_y"]), xref="paper", yref="paper",
                            xanchor="center", yanchor="middle", showarrow=False,
                            font=dict(family=FONT, size=16, color="black", weight="bold")))
    annotations.append(dict(text=XLABELS[p], x=cx, y=py(g["xlab_y"]), xref="paper", yref="paper",
                            xanchor="center", yanchor="middle", showarrow=False,
                            font=dict(family=FONT, size=14.5, color=AXC, weight="bold")))
    annotations.append(dict(text=YLABELS[p], x=px(g["ylab"][0]), y=py(g["ylab"][1]),
                            xref="paper", yref="paper", xanchor="center", yanchor="middle",
                            textangle=-90, showarrow=False,
                            font=dict(family=FONT, size=14.5, color=AXC, weight="bold")))

layout["annotations"] = annotations
layout["shapes"] = shapes
fig.update_layout(**layout)
# the page body's default 8 px margin would shift the figure; remove it so the
# figure sits exactly in the 1143x1180 window; hide the hover toolbar
fig.write_html("out.html", config={"displayModeBar": False},
               post_script="document.body.style.margin='0px';")
